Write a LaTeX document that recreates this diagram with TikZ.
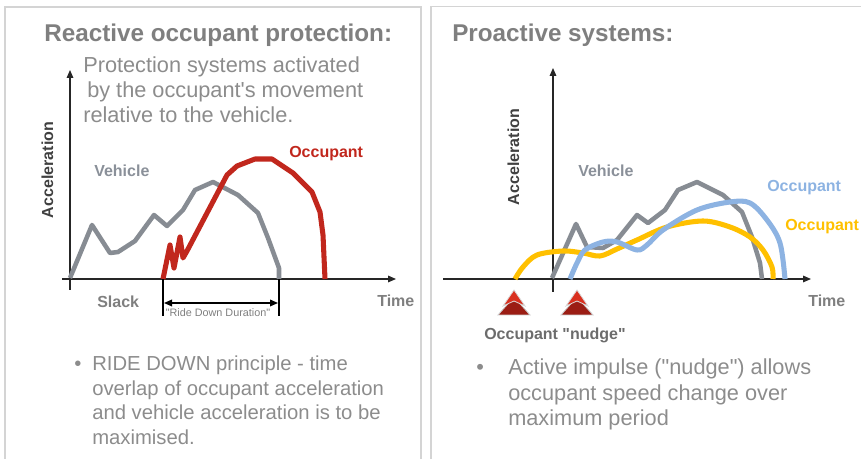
\documentclass[tikz,border=0pt]{standalone}
\usepackage{fontspec}
\setmainfont{Liberation Sans}
\usetikzlibrary{arrows.meta}
\definecolor{panelc}{HTML}{D4D4D4}
\definecolor{titlec}{HTML}{7F7F7F}
\definecolor{bodyc}{HTML}{8C8C8C}
\definecolor{vehc}{HTML}{878C93}
\definecolor{vehtxt}{HTML}{8A9099}
\definecolor{occred}{HTML}{C1271D}
\definecolor{occblue}{HTML}{8DB3E2}
\definecolor{occyel}{HTML}{FFC000}
\definecolor{axtxt}{HTML}{404040}
\definecolor{nudgetop}{HTML}{D9301F}
\definecolor{nudgebot}{HTML}{9B1D14}
\newcommand{\dq}{\textquotedbl}
\begin{document}
\begin{tikzpicture}[x=0.75pt,y=-0.75pt,
  panel/.style={draw=panelc,line width=1.2pt},
  title/.style={anchor=base west,inner sep=0,text=titlec,font=\fontsize{18.2pt}{20pt}\selectfont\bfseries},
  body/.style={anchor=base west,inner sep=0,text=bodyc,font=\fontsize{16.3pt}{19pt}\selectfont},
  lbul/.style={anchor=base west,inner sep=0,text=bodyc,font=\fontsize{15.2pt}{18pt}\selectfont},
  rbul/.style={anchor=base west,inner sep=0,text=bodyc,font=\fontsize{16.3pt}{19pt}\selectfont},
  lab/.style={anchor=base west,inner sep=0,font=\fontsize{12pt}{14pt}\selectfont\bfseries},
  axlab/.style={anchor=base,inner sep=0,rotate=90,text=axtxt,font=\fontsize{12pt}{14pt}\selectfont\bfseries},
  axis/.style={draw=black!85,line width=0.8pt,-{Triangle[length=6pt,width=5pt]}},
  vcurve/.style={draw=vehc,line width=3.4pt,line join=round},
  ocurve/.style={line width=3.8pt,line join=round},
]
\useasboundingbox (0,0) rectangle (861,459);
% panels
\draw[panel] (5,470) -- (5,7) -- (421,7) -- (421,470);
\draw[panel] (431,470) -- (431,6.5) -- (870,6.5);

% ---------- left panel ----------
\node[title] (lt) at (44,42) {Reactive occupant protection:};
\node[body] (lb1) at (83,73) {Protection systems activated};
\node[body] (lb2) at (87,98) {by the occupant\textquotesingle s movement};
\node[body] (lb3) at (83,123) {relative to the vehicle.};

\coordinate (ly0) at (70,290);
\coordinate (ly1) at (70,70);
\coordinate (lx0) at (62,279);
\coordinate (lx1) at (396,279);
\draw[axis] (ly0) -- (ly1);
\draw[axis] (lx0) -- (lx1);
\node[axlab] (lacc) at (53,170) {Acceleration};

\draw[vcurve] (70,278) -- (92,225) -- (110,253) -- (118,252) -- (135,241) -- (154,215) -- (167,226) -- (183,210) -- (195,190) -- (213,182) -- (238,195) -- (258,213) -- (268,238) -- (279,268) -- (279,279);
\draw[ocurve,draw=occred] (163,279) -- (170,245) -- (174,268) -- (180,237) -- (183,258) -- (187,251) -- (227,175) -- (237,166) -- (255,159) -- (272,159) -- (293,173) -- (312,192) -- (320,212) -- (323,235) -- (325,279);

\node[lab,text=vehtxt] (lveh) at (94,177) {Vehicle};
\node[lab,text=occred] (locc) at (289,158) {Occupant};
\node[lab,text=titlec] (slack) at (97,308) {Slack};
\node[lab,text=titlec] (ltime) at (377,307) {Time};

\coordinate (rd1t) at (163,279);
\coordinate (rd1b) at (163,316);
\coordinate (rd2t) at (279,279);
\coordinate (rd2b) at (279,316);
\draw[black,line width=1.4pt] (rd1t) -- (rd1b);
\draw[black,line width=1.4pt] (rd2t) -- (rd2b);
\coordinate (rda) at (164,303);
\coordinate (rdb) at (278,303);
\draw[black,line width=1pt,{Triangle[length=6pt,width=5pt]}-{Triangle[length=6pt,width=5pt]}] (rda) -- (rdb);
\node[anchor=base,inner sep=0,text=titlec,font=\fontsize{8.1pt}{9pt}\selectfont] (rdl) at (218,317) {\dq Ride Down Duration\dq};

\node[lbul] (lbb) at (74,371) {•};
\node[lbul] (lt1) at (92,371) {RIDE DOWN principle - time};
\node[lbul] (lt2) at (92,396) {overlap of occupant acceleration};
\node[lbul] (lt3) at (92,420) {and vehicle acceleration is to be};
\node[lbul] (lt4) at (92,445) {maximised.};

% ---------- right panel ----------
\node[title] (rt) at (452,42) {Proactive systems:};

\coordinate (ry0) at (553,292);
\coordinate (ry1) at (553,68);
\coordinate (rx0) at (443,279);
\coordinate (rx1) at (811,279);
\draw[axis] (ry0) -- (ry1);
\draw[axis] (rx0) -- (rx1);
\node[axlab] (racc) at (519,157) {Acceleration};

\draw[vcurve] (552,278) -- (576,224) -- (587,247) -- (603,248) -- (617,240) -- (637,215) -- (648,223) -- (665,210) -- (678,190) -- (697,182) -- (723,195) -- (742,212) -- (752,237) -- (760,263) -- (762,279);
\draw[ocurve,draw=occyel,line cap=butt] plot[smooth,tension=0.55] coordinates {(515,279) (523,267) (537,255) (563,251) (583,253) (600,256) (617,249) (637,240) (667,227) (703,221) (730,227) (750,237) (763,250) (772,267) (773,279)};
\draw[ocurve,draw=occblue] plot[smooth,tension=0.55] coordinates {(570,279) (577,263) (585,250) (603,242) (617,242) (637,250) (647,245) (663,230) (697,210) (730,202) (750,203) (767,220) (780,243) (785,279)};

\node[lab,text=vehtxt] (rveh) at (578,177) {Vehicle};
\node[lab,text=occblue] (rocc1) at (767,192) {Occupant};
\node[lab,text=occyel] (rocc2) at (785,231) {Occupant};
\node[lab,text=titlec] (rtime) at (808,307) {Time};

% nudge markers
\foreach \nx [count=\i] in {514,577}{
  \fill[nudgebot,draw=black!20,line width=0.6pt] (\nx-16,315) -- (\nx,297) -- (\nx+16,315) -- cycle;
  \fill[nudgetop,draw=black!15,line width=0.6pt] (\nx-11,306) -- (\nx,290) -- (\nx+11,306) -- (\nx,301) -- cycle;
}
\node[lab,text=titlec!85!black] (nudge) at (484,340) {Occupant \dq nudge\dq};

\node[rbul] (rbb) at (476,375) {•};
\node[rbul] (rt1) at (508,375) {Active impulse (\dq nudge\dq) allows};
\node[rbul] (rt2) at (508,401) {occupant speed change over};
\node[rbul] (rt3) at (508,426) {maximum period};
\end{tikzpicture}
\end{document}
